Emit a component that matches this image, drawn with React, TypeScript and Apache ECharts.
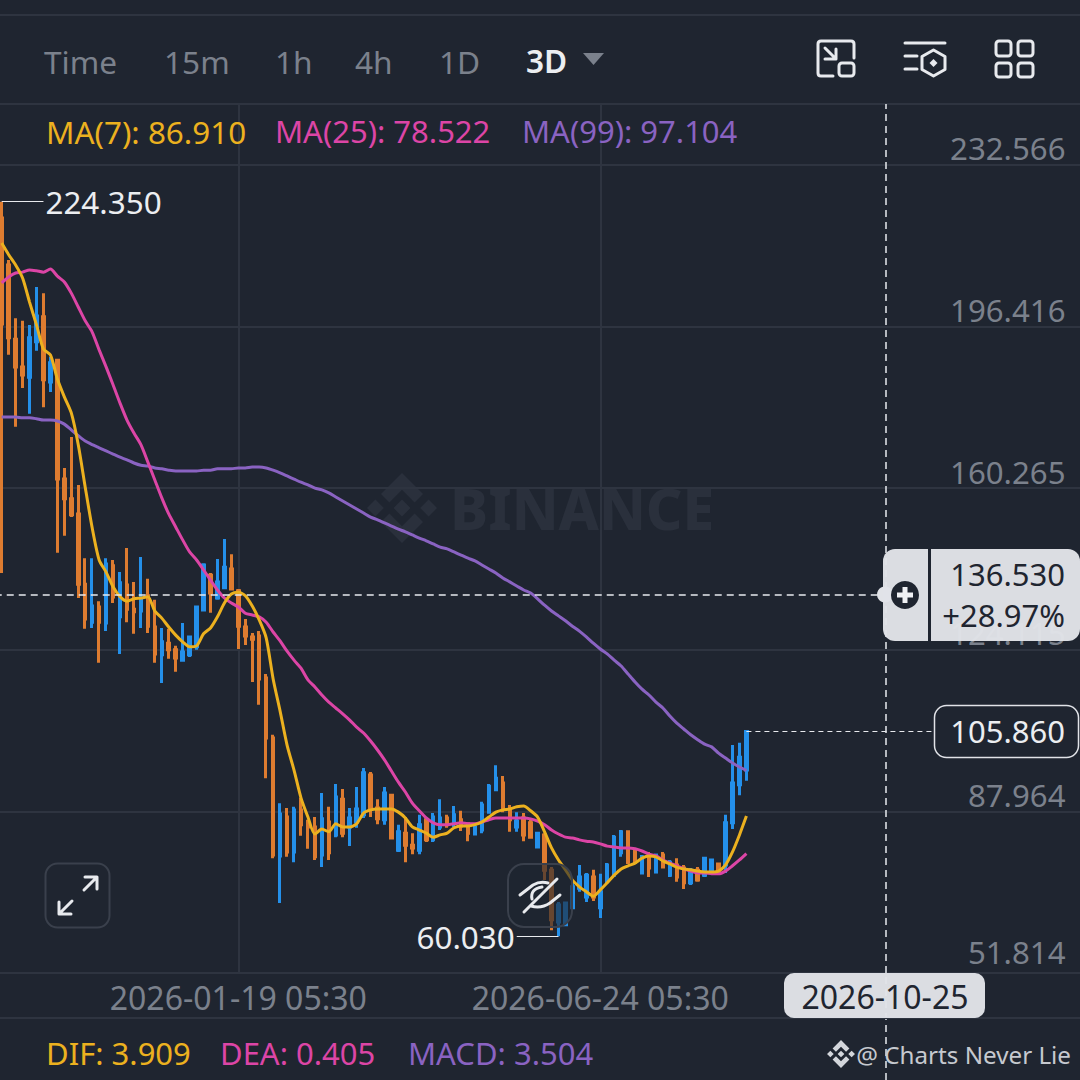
import React, { useEffect, useRef } from "react";
import * as echarts from "echarts";

// [open, close, low, high], every 3 days
const candles: number[][] = [
  [220.7,197.0,141.3,224.35],[210.2,193.9,190.1,211.3],[193.6,187.4,174.0,198.3],[187.4,185.6,182.7,197.7],
  [185.1,193.9,176.9,196.8],[193.0,198.8,191.0,205.3],[198.6,184.5,178.4,203.9],[184.0,188.3,181.8,189.6],
  [188.9,162.3,145.8,189.2],[162.3,157.9,149.6,164.8],[157.9,154.3,153.8,171.7],[154.5,138.8,135.7,161.0],
  [138.8,131.0,128.8,144.6],[130.3,133.9,129.0,144.6],[133.7,130.3,121.2,135.0],[130.1,143.3,128.3,144.6],
  [142.9,135.9,134.6,144.2],[131.5,139.1,123.2,141.5],[138.6,133.2,130.3,146.9],[133.2,132.6,127.7,139.3],
  [132.8,135.7,129.0,144.9],[136.2,129.4,127.9,140.0],[129.2,123.2,121.2,135.3],[123.0,125.9,116.7,129.0],
  [125.6,124.1,122.1,128.8],[124.1,122.3,119.2,125.0],[121.8,123.6,121.8,130.1],[123.0,127.0,122.5,127.2],
  [124.8,133.7,124.1,133.9],[133.0,143.1,132.8,143.5],[140.8,136.8,132.4,141.3],[135.7,139.3,135.3,144.4],
  [138.0,142.6,137.7,148.9],[142.2,137.7,137.7,145.5],[137.3,129.4,124.3,137.7],[129.2,127.2,125.2,131.0],
  [127.0,126.5,116.9,127.9],[127.2,117.6,111.8,128.3],[117.8,104.4,95.4,118.7],[104.4,78.2,77.5,105.1],
  [78.0,87.4,67.5,89.8],[86.7,78.9,77.8,88.7],[78.9,88.3,76.6,89.0],[88.3,85.0,82.5,91.0],
  [85.0,84.5,79.6,86.1],[84.5,77.8,77.1,86.7],[78.2,86.3,75.5,92.1],[85.6,78.7,77.1,89.0],
  [82.7,91.2,82.2,94.1],[90.7,83.1,82.2,93.0],[84.5,86.5,80.2,88.7],[85.6,88.5,84.3,93.4],
  [87.2,96.6,86.5,97.7],[96.1,88.7,86.7,96.8],[88.7,86.3,85.1,90.7],[86.1,92.1,85.0,93.4],
  [91.6,82.0,81.8,91.9],[79.3,83.4,78.9,85.0],[83.1,80.4,76.6,86.7],[80.4,79.8,78.4,83.1],
  [79.3,85.0,78.4,87.2],[86.1,81.6,81.1,86.3],[81.6,86.7,81.1,87.6],[84.5,86.5,83.8,90.7],
  [86.5,85.0,84.3,87.2],[85.4,87.2,84.5,89.2],[86.1,84.7,83.6,88.1],[85.2,83.1,81.3,85.4],
  [82.9,84.5,82.7,85.0],[83.8,89.4,83.1,90.1],[87.8,93.6,87.6,94.1],[92.8,95.4,92.5,98.3],
  [94.3,88.7,87.8,95.9],[88.5,86.1,83.4,89.4],[84.5,85.8,83.4,87.8],[86.5,82.7,81.3,87.6],
  [85.4,82.2,82.0,86.1],[80.0,83.1,80.0,83.4],[82.7,74.8,72.6,83.1],[74.8,63.7,61.4,75.5],
  [63.2,67.0,60.03,67.7],[62.6,67.5,62.3,67.7],[66.4,71.1,66.1,72.0],[70.8,73.3,70.0,76.0],
  [68.8,73.7,67.7,74.2],[73.3,68.8,67.9,74.9],[66.4,70.0,64.1,74.0],[72.2,76.0,72.0,76.4],
  [73.7,82.2,73.3,82.7],[78.7,83.4,77.8,83.8],[83.4,76.6,76.2,83.6],[79.3,76.6,76.4,79.8],
  [74.2,77.8,74.0,78.2],[77.8,75.3,73.3,78.9],[74.4,78.2,74.4,78.2],[78.2,75.5,75.3,78.9],
  [73.7,76.6,73.3,77.1],[76.0,73.3,72.2,77.5],[75.3,72.0,70.6,76.0],[72.0,74.8,71.5,75.3],
  [74.8,72.6,72.2,75.5],[73.7,77.5,73.3,77.8],[74.8,77.1,74.4,77.3],[76.2,74.6,74.4,76.2],
  [76.0,85.4,74.2,87.2],[85.4,94.3,84.0,102.8],[93.9,100.1,91.6,103.3],[97.2,105.86,94.8,106.2],
];

const ma7 = [215.1,212.5,210.2,207.3,201.9,196.8,191.4,190.1,184.7,180.7,177.1,170.0,160.5,151.4,144.2,141.5,138.2,136.0,135.0,135.5,135.7,136.0,132.8,131.2,129.2,127.4,125.9,124.8,125.0,127.7,129.0,131.5,134.6,136.6,137.0,136.2,133.9,130.8,126.8,117.6,110.4,102.8,97.2,91.0,86.7,82.9,84.0,83.4,85.2,84.5,84.5,85.2,87.6,88.3,88.5,88.5,88.5,87.8,86.5,84.5,83.8,83.1,82.2,82.7,83.1,84.3,84.7,84.7,85.0,85.6,86.7,87.8,88.3,88.5,89.0,89.2,88.1,86.7,83.4,79.8,77.1,74.9,72.6,71.1,70.0,69.0,70.4,72.0,73.7,75.1,75.8,76.4,77.5,78.0,77.8,76.9,76.2,75.5,75.1,74.9,74.6,74.4,74.4,74.6,76.0,78.9,82.7,86.91];
const ma25 = [206.2,207.5,208.4,208.6,209.1,208.9,208.6,209.3,207.7,206.4,203.9,200.8,197.7,195.2,191.2,187.4,183.4,179.3,175.5,172.6,170.0,166.1,162.1,158.1,154.5,151.6,148.7,146.0,144.2,142.0,139.7,137.5,135.7,134.6,133.7,132.3,131.9,131.5,130.3,128.1,126.1,123.8,121.8,120.0,117.4,115.8,114.0,112.4,111.1,109.8,108.4,106.8,105.5,103.7,101.7,99.5,97.0,94.5,92.3,89.8,88.1,86.5,85.4,85.0,85.0,85.2,85.4,85.2,85.2,85.6,86.1,86.5,86.5,86.5,86.5,86.5,86.3,85.8,85.0,83.8,82.9,82.2,82.0,81.6,81.3,81.1,80.7,80.2,80.0,79.8,79.8,79.6,79.1,78.4,78.0,77.1,76.4,75.8,75.1,74.6,74.2,74.2,74.0,74.0,74.6,75.8,77.1,78.522];
const ma99 = [176.2,176.2,176.2,176.0,176.0,175.8,175.5,175.5,175.3,174.6,173.3,172.0,170.8,170.0,169.3,168.6,167.9,167.2,166.6,165.9,165.4,165.2,164.8,164.6,164.3,164.1,164.1,164.1,164.1,164.3,164.3,164.6,164.6,164.6,164.8,164.8,165.0,165.0,164.8,164.3,163.7,163.0,162.3,161.6,161.0,160.3,159.9,159.2,158.3,157.4,156.5,155.6,154.7,153.8,153.2,152.5,151.8,151.1,150.5,149.8,149.1,148.5,147.8,147.1,146.7,146.0,145.3,144.6,144.0,143.1,142.2,141.3,140.2,139.3,138.4,137.5,136.8,135.5,134.1,132.8,131.7,130.6,129.4,128.3,127.0,125.6,124.3,123.2,121.8,120.5,118.7,116.9,115.3,114.0,112.4,111.1,109.3,107.7,106.4,105.1,104.0,103.0,102.4,101.0,99.9,98.8,97.9,97.104];

const yMin = 51.814;
const yStep = 36.1504;
const yMax = 246.21;

const firstDay = Date.UTC(2025, 9, 9);
const stepMs = 3 * 86400000;
const slotCount = 156;
const candleDates = Array.from({ length: slotCount }, (_, i) =>
  new Date(firstDay + i * stepMs).toISOString().slice(0, 10) + " 05:30");
// one blank slot ahead of the first candle, so it sits at the left page edge
const categories = ["", ...candleDates];
const labelledDates = ["2026-01-19 05:30", "2026-06-24 05:30"];
const crossDate = "2026-10-25 05:30";
const crossPrice = 136.53;
const crossChange = "+28.97%";
const lastPrice = 105.86;
const highPrice = 224.35;
const lowPrice = 60.03;
const tabs: [string, number][] = [["Time", 44], ["15m", 164], ["1h", 275], ["4h", 355], ["1D", 439]];

const BG = "#1f2530";
const GRID = "#2e3440";
const GREY = "#7b818c";
const LIGHT = "#e1e3e8";
const DARK = "#1f2530";
const UP = "#2490ea";
const DOWN = "#de7c30";
const YEL = "#ecb11f";
const PINK = "#dc45a6";
const PUR = "#8a63c2";
const FONT = '"Noto Sans", sans-serif';

const logoD = "M50 0L80 30L68 42L50 24L32 42L20 30ZM50 100L80 70L68 58L50 76L32 58L20 70ZM0 50L12 38L24 50L12 62ZM76 50L88 38L100 50L88 62ZM38 50L50 38L62 50L50 62Z";
echarts.graphic.registerShape("bnbLogo", echarts.graphic.extendPath(logoD, {}));
echarts.graphic.registerShape("iconMin", echarts.graphic.extendPath("M833 76H821Q818 76 818 73V44Q818 41 821 41H851Q854 41 854 44V58M825 48L836 59M836 49V59H825", {}));
echarts.graphic.registerShape("iconHex", echarts.graphic.extendPath("M905 43H945M905 56H917M905 69H917M933.5 50L945 56.5V69.5L933.5 76L922 69.5V56.5Z", {}));
echarts.graphic.registerShape("iconExpand", echarts.graphic.extendPath("M59 914L72 901M59 902V914H71M97 877L84 890M85 877H97V889", {}));
echarts.graphic.registerShape("iconEye", echarts.graphic.extendPath("M520 895L533 885Q540 881 548 883M560 895L550 903Q541 909 531 906M557 879L524 912M532 899Q530 889 542 887", {}));

const z = 100;
const txt = (x: number, y: number, text: string, fill: string, size: number, align = "left", weight = 400) => ({
  type: "text", x, y, z,
  style: { text, fill, textAlign: align, textVerticalAlign: "middle", font: `${weight} ${size}px ${FONT}` },
});
const line = (x1: number, y1: number, x2: number, y2: number, stroke: string, lineWidth = 2) => ({
  type: "line", z, shape: { x1, y1, x2, y2 }, style: { stroke, lineWidth },
});
const icon = (type: string, stroke = "#e8eaee", lineWidth = 3) => ({
  type, z, style: { fill: "none", stroke, lineWidth, lineCap: "round", lineJoin: "round" },
});
const sq = (x: number, y: number, w: number, h: number) => ({
  type: "rect", z, shape: { x, y, width: w, height: h, r: 3 }, style: { fill: "none", stroke: "#e8eaee", lineWidth: 3 },
});

const graphics: any[] = [
  // watermark
  { type: "bnbLogo", x: 367, y: 473, scaleX: 0.7, scaleY: 0.7, z: 0, style: { fill: "#2a303c" } },
  { type: "text", x: 450, y: 508, z: 0, style: { text: "BINANCE", fill: "#2a303c", textVerticalAlign: "middle", font: `800 57px ${FONT}` } },
  // frame lines
  line(0, 15, 1080, 15, GRID),
  line(0, 1018, 1080, 1018, GRID),
  // tabs
  ...tabs.map(([t, x]) => txt(x, 61, t, GREY, 31.6)),
  txt(526, 60, "3D", "#eceef1", 31.6, "left", 600),
  { type: "polygon", z, shape: { points: [[583, 53], [604, 53], [593.5, 65]] }, style: { fill: GREY } },
  // toolbar icons
  icon("iconMin"),
  sq(839, 63, 15, 13),
  icon("iconHex"),
  { type: "polygon", z, shape: { points: [[933.5, 59], [937.5, 63], [933.5, 67], [929.5, 63]] }, style: { fill: "#e8eaee" } },
  sq(996, 41, 15, 15), sq(1018, 41, 15, 15), sq(996, 63, 15, 14), sq(1018, 63, 15, 14),
  // moving-average legend
  txt(46, 131, "MA(7): 86.910", YEL, 31.4),
  txt(275, 131, "MA(25): 78.522", PINK, 31),
  txt(522, 131, "MA(99): 97.104", PUR, 31),
  // crosshair price pill
  { type: "circle", z, shape: { cx: 885, cy: 594.5, r: 8 }, style: { fill: LIGHT } },
  { type: "rect", z, shape: { x: 883, y: 549, width: 197, height: 92, r: 12 }, style: { fill: LIGHT, opacity: 0.97 } },
  line(929.5, 549, 929.5, 641, DARK, 3),
  { type: "circle", z, shape: { cx: 905, cy: 595, r: 14 }, style: { fill: DARK } },
  line(905, 587, 905, 603, "#f0f1f4", 5),
  line(897, 595, 913, 595, "#f0f1f4", 5),
  txt(1065, 574, crossPrice.toFixed(3), DARK, 31, "right"),
  txt(1065, 615, crossChange, DARK, 31, "right"),
  // last price box
  { type: "rect", z, shape: { x: 934.5, y: 705.5, width: 144, height: 52, r: 12 }, style: { fill: BG, stroke: LIGHT, lineWidth: 1.5 } },
  txt(1065, 731, lastPrice.toFixed(3), "#eceef1", 31, "right"),
  // crosshair date pill
  { type: "rect", z, shape: { x: 784, y: 973, width: 201, height: 45, r: 10 }, style: { fill: LIGHT, opacity: 0.97 } },
  txt(885, 996, crossDate.slice(0, 10), DARK, 32, "center"),
  // MACD legend and signature
  txt(46, 1053, "DIF: 3.909", YEL, 31),
  txt(220, 1053, "DEA: 0.405", PINK, 31),
  txt(408, 1053, "MACD: 3.504", PUR, 31),
  { type: "bnbLogo", x: 827, y: 1040, scaleX: 0.28, scaleY: 0.28, z, style: { fill: "#d3d6db" } },
  txt(1071, 1054, "@ Charts Never Lie", "#c6c9cf", 24.2, "right"),
  // floating buttons
  { type: "rect", z, shape: { x: 45.5, y: 863.5, width: 64, height: 64, r: 12 }, style: { fill: "none", stroke: "#3a404c", lineWidth: 2 } },
  icon("iconExpand"),
  { type: "rect", z, shape: { x: 508, y: 864, width: 64, height: 63, r: 16 }, style: { fill: BG, fillOpacity: 0.62, stroke: "#3a404c", lineWidth: 2 } },
  icon("iconEye"),
];

const dash = { type: [7, 5] as number[], color: "#e8eaee", width: 1.5 };
const leader = { type: "solid", color: "#e8eaee", width: 1 };
const extremeLabel = (v: number) => ({
  show: true, position: "end", distance: 2, color: "#eceef1", fontSize: 31.4, fontFamily: FONT, formatter: v.toFixed(3),
});
const slot = (candleIndex: number) => categories[candleIndex + 1];
const maLine = (name: string, data: number[], color: string) => ({
  name, type: "line", data: [null, ...data], showSymbol: false, smooth: 0.25, z: 5,
  lineStyle: { color, width: 3 }, itemStyle: { color },
});

const isLabelled = (i: number) => labelledDates.includes(categories[i]);

const option: any = {
  animation: false,
  backgroundColor: BG,
  grid: [
    { left: -5.26, width: 1085.76, top: 104, height: 869, outerBoundsMode: "none" },
    { left: -5.26, width: 1085.76, top: 973, height: 107, outerBoundsMode: "none" },
  ],
  xAxis: [
    {
      type: "category", gridIndex: 0, data: categories, boundaryGap: false,
      axisLine: { show: false }, axisTick: { show: false },
      axisLabel: {
        interval: (i: number) => isLabelled(i), margin: 8, color: GREY, fontSize: 32,
        fontFamily: FONT, hideOverlap: false,
      },
      splitLine: { show: true, interval: (i: number) => isLabelled(i), lineStyle: { color: GRID, width: 2 } },
    },
    { type: "category", gridIndex: 1, data: categories, boundaryGap: false, show: false },
  ],
  yAxis: [
    {
      type: "value", gridIndex: 0, position: "right", min: yMin, max: yMax, interval: yStep, scale: true,
      axisLine: { show: false }, axisTick: { show: false },
      axisLabel: {
        inside: true, margin: 15, verticalAlign: "bottom", color: GREY, fontSize: 31.2, fontFamily: FONT,
        formatter: (v: number) => (v > 240 ? "" : v < 52 ? `{low|${v.toFixed(3)}}` : `{tick|${v.toFixed(3)}}`),
        rich: {
          tick: { color: GREY, fontSize: 31.2, fontFamily: FONT, padding: [0, 0, 1, 0] },
          low: { color: GREY, fontSize: 31.2, fontFamily: FONT, padding: [0, 0, 6, 0] },
        },
      },
      splitLine: { show: true, lineStyle: { color: GRID, width: 2 } },
    },
    { type: "value", gridIndex: 1, min: 0, max: 1, show: false },
  ],
  graphic: { elements: graphics },
  series: [
    {
      name: "Price", type: "candlestick", data: [["-", "-", "-", "-"], ...candles], barWidth: 2, z: 3,
      itemStyle: { color: UP, color0: DOWN, borderColor: UP, borderColor0: DOWN, borderWidth: 3 },
      markLine: {
        silent: true, symbol: "none", animation: false, z: 6,
        data: [
          [
            { coord: [slot(0), highPrice], lineStyle: leader, label: extremeLabel(highPrice) },
            { coord: [slot(6), highPrice] },
          ],
          [
            { coord: [slot(80), lowPrice], lineStyle: leader, label: extremeLabel(lowPrice) },
            { coord: [slot(74), lowPrice] },
          ],
          [
            { coord: [slot(107), lastPrice], lineStyle: { ...dash, width: 1, type: [5, 4] }, label: { show: false } },
            { coord: [slot(134), lastPrice] },
          ],
          [
            { coord: [categories[0], crossPrice], lineStyle: dash, label: { show: false } },
            { coord: [slot(126), crossPrice] },
          ],
          [
            { coord: [crossDate, yMin], lineStyle: dash, label: { show: false } },
            { coord: [crossDate, yMax] },
          ],
        ],
      },
    },
    maLine("MA(99)", ma99, PUR),
    maLine("MA(25)", ma25, PINK),
    maLine("MA(7)", ma7, YEL),
    {
      name: "Crosshair", type: "line", xAxisIndex: 1, yAxisIndex: 1, data: [], z: 6,
      markLine: {
        silent: true, symbol: "none", animation: false, label: { show: false }, lineStyle: dash,
        data: [{ xAxis: crossDate }],
      },
    },
  ],
};

export default function App() {
  const ref = useRef<HTMLDivElement>(null);
  useEffect(() => {
    const chart = echarts.init(ref.current!, undefined, { renderer: "svg" });
    chart.setOption(option);
    return () => chart.dispose();
  }, []);
  return <div ref={ref} style={{ position: "fixed", left: 0, top: 0, width: 1080, height: 1080, background: BG }} />;
}
